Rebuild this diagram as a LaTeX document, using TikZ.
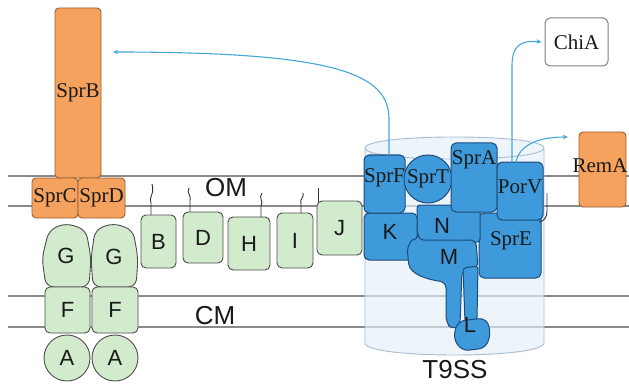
\documentclass[tikz,border=0pt]{standalone}
\usepackage{fontspec}
\setmainfont{Liberation Serif}
\newfontfamily\lsans{Liberation Sans}
\usetikzlibrary{arrows.meta}
\newcommand{\myrm}{\fontsize{21}{21}\selectfont}
\newcommand{\mysf}{\lsans\fontsize{22}{22}\selectfont}
\newcommand{\mysfbig}{\lsans\fontsize{26}{26}\selectfont}
\definecolor{ofill}{HTML}{F4A25E}
\definecolor{oline}{HTML}{9C5E2E}
\definecolor{gfill}{HTML}{D3EBCD}
\definecolor{gline}{HTML}{4D4D4D}
\definecolor{bfill}{HTML}{3F9ADB}
\definecolor{bline}{HTML}{1C4C7C}
\definecolor{cylf}{HTML}{E4EEF8}
\definecolor{cyll}{HTML}{A8BCD2}
\definecolor{arrc}{HTML}{45A6D9}
\definecolor{membc}{HTML}{8A8A8A}
\begin{document}
\begin{tikzpicture}[x=1pt,y=-1pt,
  memb/.style={draw=membc, line width=1.1pt},
  obox/.style={draw=oline, fill=ofill, rounded corners=4pt, line width=0.9pt, inner sep=0pt, font=\myrm, text=black!90},
  wbox/.style={draw=gray, fill=white, rounded corners=5pt, line width=1pt, inner sep=0pt, font=\myrm, text=black!90},
  gbox/.style={draw=gline, fill=gfill, rounded corners=5pt, line width=0.9pt, inner sep=0pt, font=\mysf, text=black!90},
  gshape/.style={draw=gline, fill=gfill, rounded corners=8pt, line width=0.9pt},
  bbox/.style={draw=bline, fill=bfill, rounded corners=5pt, line width=1pt, inner sep=0pt},
  bshape/.style={draw=bline, fill=bfill, line width=1pt},
  rlbl/.style={inner sep=0pt, font=\myrm, text=black!90},
  slbl/.style={inner sep=0pt, font=\mysf, text=black!90},
  biglbl/.style={inner sep=0pt, font=\mysfbig, text=black!90},
  arr/.style={draw=arrc, line width=1.1pt, -{Stealth[length=5pt,width=4.5pt]}},
  lipid/.style={draw=black!80, line width=0.9pt}
]
\useasboundingbox (0,0) rectangle (629,385);
% membranes
\coordinate (om1l) at (8,176); \coordinate (om1r) at (629,176);
\coordinate (om2l) at (8,206); \coordinate (om2r) at (629,206);
\coordinate (cm1l) at (8,296); \coordinate (cm1r) at (629,296);
\coordinate (cm2l) at (8,327); \coordinate (cm2r) at (629,327);
\draw[memb] (om1l) -- (om1r);
\draw[memb] (om2l) -- (om2r);
\draw[memb] (cm1l) -- (cm1r);
\draw[memb] (cm2l) -- (cm2r);
% T9SS cylinder
\fill[cylf, opacity=0.65] (365,148) -- (365,343) .. controls (365,359) and (544,359) .. (544,343) -- (544,148) .. controls (544,133.3) and (365,133.3) .. (365,148) -- cycle;
\draw[cyll, line width=0.9pt] (365,148) -- (365,343) .. controls (365,359) and (544,359) .. (544,343) -- (544,148) .. controls (544,133.3) and (365,133.3) .. (365,148) .. controls (365,162.7) and (544,162.7) .. (544,148);
% orange
\node[obox, minimum width=46, minimum height=170] (sprb) at (78,93) {SprB};
\node[obox, minimum width=46, minimum height=40] (sprc) at (55,198) {SprC};
\node[obox, minimum width=47, minimum height=40] (sprd) at (101.5,198) {SprD};
\node[obox, minimum width=47, minimum height=75] (rema) at (602.5,169.5) {};
\node[rlbl] (remat) at (600,166) {RemA};
\node[wbox, minimum width=63, minimum height=48] (chia) at (576.5,42) {ChiA};
% green
\draw[gshape] (49,230) -- (66,223) -- (86,230) -- (91,258) -- (89,287) -- (46,287) -- (42,258) -- cycle;
\draw[gshape] (95,230) -- (113,223) -- (133,230) -- (138,258) -- (136,287) -- (93,287) -- (91,258) -- cycle;
\node[slbl] (g1) at (66,256) {G};
\node[slbl] (g2) at (114,257) {G};
\node[gbox, minimum width=45, minimum height=46] (f1) at (67.5,310) {F};
\node[gbox, minimum width=46, minimum height=46] (f2) at (115,310) {F};
\node[gbox, circle, minimum size=46] (a1) at (67,358) {A};
\node[gbox, circle, minimum size=46] (a2) at (115,358) {A};
\node[gbox, minimum width=35, minimum height=53] (b) at (158.5,241.5) {B};
\node[gbox, minimum width=40, minimum height=51] (d) at (203,237.5) {D};
\node[gbox, minimum width=42, minimum height=53] (h) at (249,243.5) {H};
\node[gbox, minimum width=36, minimum height=55] (i) at (295,240.5) {I};
\node[gbox, minimum width=45, minimum height=54] (j) at (339.5,228) {J};
% lipid anchors
\draw[lipid] (151,215) -- (151,203) .. controls (148,198) and (155,194) .. (152,184);
\draw[lipid] (190,212) -- (190,201) .. controls (192,196) and (186,193) .. (189,188);
\draw[lipid] (261,217) -- (261,206) .. controls (264,201) and (258,198) .. (262,193);
\draw[lipid] (301,213) -- (301,204) .. controls (299,199) and (305,197) .. (303,193);
\draw[lipid] (318,202) -- (318,188);
\node[biglbl] (om) at (226,188) {OM};
\node[biglbl] (cm) at (215,316) {CM};
% blue T9SS components
\node[bbox, minimum width=62, minimum height=65] (spre) at (510,245.5) {};
\node[bbox, rounded corners=3pt, minimum width=63, minimum height=37] (n) at (448.5,223.5) {};
\node[bbox, minimum width=53, minimum height=47] (k) at (390.5,236.5) {};
\draw[bshape, rounded corners=6pt] (418,240) -- (476,240) -- (478,268) -- (462,270) -- (460,325) -- (452,330) -- (446,322) -- (446,282) .. controls (430,280) and (410,275) .. (408,258) .. controls (407,246) and (412,240) .. (418,240) -- cycle;
\draw[bshape, rounded corners=3pt] (463,268) -- (478,266) -- (477,320) -- (465,322) -- cycle;
\draw[bshape, rounded corners=7pt] (458,321) -- (486,318) -- (491,332) -- (486,348) -- (462,351) -- (453,338) -- cycle;
\node[bbox, minimum width=41, minimum height=58] (sprf) at (384.5,184) {};
\node[bbox, circle, minimum size=48] (sprt) at (428,179) {};
\node[bbox, minimum width=46, minimum height=69] (spra) at (474,177.5) {};
\node[bbox, minimum width=46, minimum height=58] (porv) at (520,191) {};
\draw[lipid] (547,193) -- (547,211) .. controls (547,218) and (544,221) .. (539,222);
\node[rlbl] (sprft) at (384.5,178) {SprF};
\node[rlbl] (sprtt) at (428,179) {SprT};
\node[rlbl] (sprat) at (474,160) {SprA};
\node[rlbl] (porvt) at (520,187) {PorV};
\node[rlbl] (spret) at (511,241) {SprE};
\node[slbl] (kt) at (390,232) {K};
\node[slbl] (nt) at (442,226) {N};
\node[slbl] (mt) at (449,257) {M};
\node[slbl] (lt) at (470,325) {L};
\node[biglbl] (t9ss) at (455,370) {T9SS};
% secretion arrows
\coordinate (arrB) at (113,52);
\coordinate (arrR) at (568,137);
\draw[arr] ([xshift=4.5pt]sprf.north) -- (389,118) .. controls (388,75) and (340,52) .. (arrB);
\draw[arr] ([xshift=-8pt]porv.north) -- (512,66) .. controls (512,46) and (520,40) .. ([xshift=-3pt]chia.west);
\draw[arr] ([xshift=-4pt]porv.north) .. controls (519,147) and (535,137) .. (arrR);
\end{tikzpicture}
\end{document}
